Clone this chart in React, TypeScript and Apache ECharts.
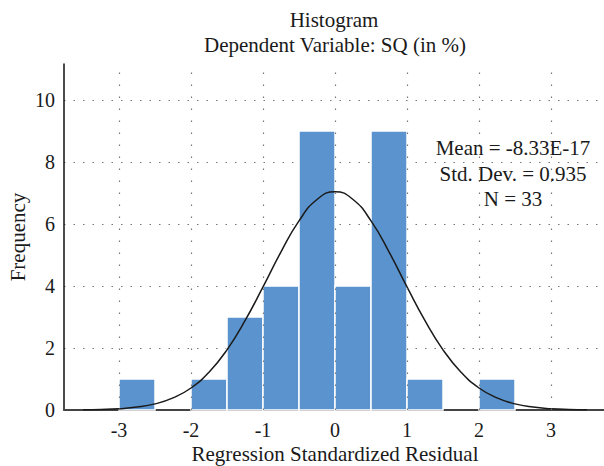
import React, { useEffect, useRef } from "react";
import * as echarts from "echarts";

const binStart = [-3, -2, -1.5, -1, -0.5, 0, 0.5, 1, 2];
const binEnd = [-2.5, -1.5, -1, -0.5, 0, 0.5, 1, 1.5, 2.5];
const counts = [1, 1, 3, 4, 9, 4, 9, 1, 1];

const curveX = [
  -3.5, -3.25, -3, -2.75, -2.5, -2.25, -2, -1.75, -1.5, -1.25, -1, -0.75, -0.5, -0.25, 0,
  0.25, 0.5, 0.75, 1, 1.25, 1.5, 1.75, 2, 2.25, 2.5, 2.75, 3, 3.25, 3.5,
];
const curveY = [
  0.006, 0.017, 0.041, 0.093, 0.197, 0.39, 0.71, 1.22, 1.94, 2.88, 3.97, 5.1, 6.1, 6.79, 7.04,
  6.79, 6.1, 5.1, 3.97, 2.88, 1.94, 1.22, 0.71, 0.39, 0.197, 0.093, 0.041, 0.017, 0.006,
];

const xGridValues = [-3, -2, -1, 0, 1, 2, 3];
const xTickLabels = ["-3", "-2", "-1", "0", "1", "2", "3"];

const titleText = "Histogram";
const subtitleText = "Dependent Variable: SQ (in %)";
const statsLines = ["Mean = -8.33E-17", "Std. Dev. = 0.935", "N = 33"];
const xName = "Regression Standardized Residual";
const yName = "Frequency";

const FONT = "'Liberation Serif', 'DejaVu Serif', serif";

export default function App() {
  const ref = useRef<HTMLDivElement>(null);

  useEffect(() => {
    if (!ref.current) return;
    const chart = echarts.init(ref.current, null, { renderer: "svg" });
    const histData = binStart.map((s, i) => [s, binEnd[i], counts[i]]);
    const textStyle = { fill: "#1a1a1a", fontFamily: FONT, fontSize: 21, align: "center", verticalAlign: "middle" };

    chart.setOption({
      animation: false,
      backgroundColor: "#ffffff",
      grid: { left: 64, right: 0, top: 64, bottom: 56, containLabel: false },
      xAxis: {
        type: "value",
        min: -3.764,
        max: 3.736,
        axisLine: { show: true, onZero: false, lineStyle: { color: "#444", width: 2 } },
        axisTick: { show: false },
        splitLine: { show: false },
        axisLabel: {
          customValues: xGridValues,
          formatter: (v: number) => {
            const i = xGridValues.indexOf(Math.round(v));
            return i >= 0 ? xTickLabels[i] : "";
          },
          color: "#1a1a1a",
          fontFamily: FONT,
          fontSize: 20,
          margin: 10,
        },
      },
      yAxis: {
        type: "value",
        min: 0,
        max: 11.16,
        interval: 2,
        axisLine: { show: true, onZero: false, lineStyle: { color: "#111", width: 1.5 } },
        axisTick: { show: false },
        axisLabel: { color: "#1a1a1a", fontFamily: FONT, fontSize: 20, margin: 9, showMaxLabel: false },
        splitLine: {
          show: true,
          showMaxLine: false,
          showMinLine: false,
          lineStyle: { color: "#777", type: [1.5, 8], width: 1.2 },
        },
      },
      graphic: [
        { type: "text", x: 334, y: 20, style: { ...textStyle, text: titleText } },
        { type: "text", x: 335, y: 45, style: { ...textStyle, text: subtitleText } },
        ...statsLines.map((t, i) => ({
          type: "text",
          x: 513,
          y: 148 + i * 25.5,
          z: 100,
          style: { ...textStyle, text: t },
        })),
        { type: "text", x: 335, y: 454, style: { ...textStyle, text: xName } },
        { type: "text", x: 18, y: 237, rotation: Math.PI / 2, style: { ...textStyle, text: yName } },
      ],
      series: [
        {
          type: "line",
          data: [],
          z: 1,
          silent: true,
          markLine: {
            silent: true,
            symbol: "none",
            label: { show: false },
            lineStyle: { color: "#777", type: [1.5, 10.5], width: 1.2 },
            data: xGridValues.map((v) => ({ xAxis: v })),
          },
        },
        {
          type: "custom",
          z: 2,
          data: histData,
          renderItem: (params: any, api: any) => {
            const p0 = api.coord([api.value(0), api.value(2)]);
            const p1 = api.coord([api.value(1), 0]);
            return {
              type: "rect",
              shape: { x: p0[0], y: p0[1], width: p1[0] - p0[0], height: p1[1] - p0[1] },
              style: { fill: "#5a93cd", stroke: "#ffffff", lineWidth: 1.5 },
            };
          },
        },
        {
          type: "line",
          z: 3,
          smooth: true,
          showSymbol: false,
          data: curveX.map((x, i) => [x, curveY[i]]),
          lineStyle: { color: "#1a1a1a", width: 1.5 },
        },
      ],
    });

    return () => chart.dispose();
  }, []);

  return (
    <div
      ref={ref}
      style={{ position: "fixed", left: 0, top: 0, width: 604, height: 466, background: "#fff" }}
    />
  );
}
